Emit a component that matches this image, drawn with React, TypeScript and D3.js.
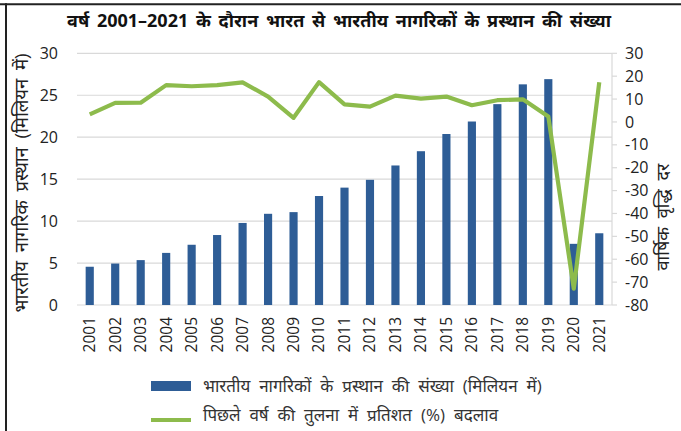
import React from "react";
import * as d3 from "d3";

const years = ["2001","2002","2003","2004","2005","2006","2007","2008","2009","2010","2011","2012","2013","2014","2015","2016","2017","2018","2019","2020","2021"];
const departures = [4.56,4.94,5.35,6.21,7.18,8.34,9.78,10.87,11.07,12.99,13.99,14.92,16.63,18.33,20.38,21.87,23.94,26.30,26.92,7.29,8.55];
const growth = [3.3,8.3,8.4,16.1,15.6,16.1,17.3,11.1,1.8,17.4,7.7,6.7,11.5,10.2,11.1,7.3,9.5,9.9,2.4,-72.9,17.3];
const leftTicks = [0,5,10,15,20,25,30];
const rightTicks = [30,20,10,0,-10,-20,-30,-40,-50,-60,-70,-80];

const title = "वर्ष 2001–2021 के दौरान भारत से भारतीय नागरिकों के प्रस्थान की संख्या";
const leftLabel = "भारतीय नागरिक प्रस्थान (मिलियन में)";
const rightLabel = "वार्षिक वृद्धि दर";
const barLegend = "भारतीय नागरिकों के प्रस्थान की संख्या (मिलियन में)";
const lineLegend = "पिछले वर्ष की तुलना में प्रतिशत (%) बदलाव";

const W = 681, H = 431;
const x0 = 77, x1 = 612, yTop = 53.3, yBot = 305;
const barColor = "#2E5D96";
const lineColor = "#8DBB4C";
const font = "'Open Sans', 'Noto Sans', sans-serif";

export default function App() {
  const x = d3.scaleBand().domain(years).range([x0, x1]).paddingInner(0.68).paddingOuter(0.34);
  const yL = d3.scaleLinear().domain([0, 30]).range([yBot, yTop]);
  const yR = d3.scaleLinear().domain([-80, 30]).range([yBot, yTop]);
  const cx = (y: string) => (x(y) as number) + x.bandwidth() / 2;
  const line = d3.line<number>().x((_, i) => cx(years[i])).y((d) => yR(d));

  return (
    <svg width={W} height={H} style={{ position: "absolute", left: 0, top: 0, background: "#fff" }}>
      <rect x={0} y={0} width={W} height={H} fill="#fff" />
      <line x1={0} x2={W} y1={4.3} y2={4.3} stroke="#222" strokeWidth={2} />
      <line x1={6} x2={6} y1={3.3} y2={H} stroke="#222" strokeWidth={2} />
      <text x={339} y={27} textAnchor="middle" fontFamily={font} fontWeight="bold" fontSize={18} wordSpacing={3} fill="#111">{title}</text>
      {leftTicks.map((t) => (
        <g key={"l" + t}>
          <line x1={x0} x2={x1} y1={yL(t)} y2={yL(t)} stroke="#d9d9d9" strokeWidth={1.2} />
          <text x={58} y={yL(t)} dy="0.35em" textAnchor="end" fontFamily={font} fontSize={16} fill="#222">{t}</text>
        </g>
      ))}
      <line x1={x1} x2={x1} y1={yTop} y2={yBot} stroke="#d9d9d9" strokeWidth={1.2} />
      {rightTicks.map((t) => (
        <g key={"r" + t}>
          <line x1={x1} x2={x1 + 5} y1={yR(t)} y2={yR(t)} stroke="#d9d9d9" strokeWidth={1.2} />
          <text x={625} y={yR(t)} dy="0.35em" textAnchor="start" fontFamily={font} fontSize={16} fill="#222">{t}</text>
        </g>
      ))}
      {departures.map((d, i) => (
        <rect key={years[i]} x={x(years[i])} y={yL(d)} width={x.bandwidth()} height={yL(0) - yL(d)} fill={barColor} />
      ))}
      <path d={line(growth) || ""} fill="none" stroke={lineColor} strokeWidth={4.2} strokeLinejoin="round" />
      {years.map((y) => (
        <text key={"x" + y} transform={`translate(${cx(y)},${317}) rotate(-90)`} dy="0.35em" textAnchor="end" fontFamily={font} fontSize={15.5} fill="#222">{y}</text>
      ))}
      <text transform={`translate(22,183) rotate(-90)`} textAnchor="middle" dy="0.35em" fontFamily={font} fontSize={18.5} wordSpacing={4} fill="#222">{leftLabel}</text>
      <text transform={`translate(663,217) rotate(-90)`} textAnchor="middle" dy="0.35em" fontFamily={font} fontSize={18} wordSpacing={4} fill="#222">{rightLabel}</text>
      <rect x={151} y={381} width={40} height={10} fill={barColor} />
      <text x={203} y={386} dy="0.35em" fontFamily={font} fontSize={17} wordSpacing={4.5} fill="#333">{barLegend}</text>
      <line x1={151} x2={191} y1={420} y2={420} stroke={lineColor} strokeWidth={4} />
      <text x={203} y={415} dy="0.35em" fontFamily={font} fontSize={17} wordSpacing={4.5} fill="#333">{lineLegend}</text>
    </svg>
  );
}
